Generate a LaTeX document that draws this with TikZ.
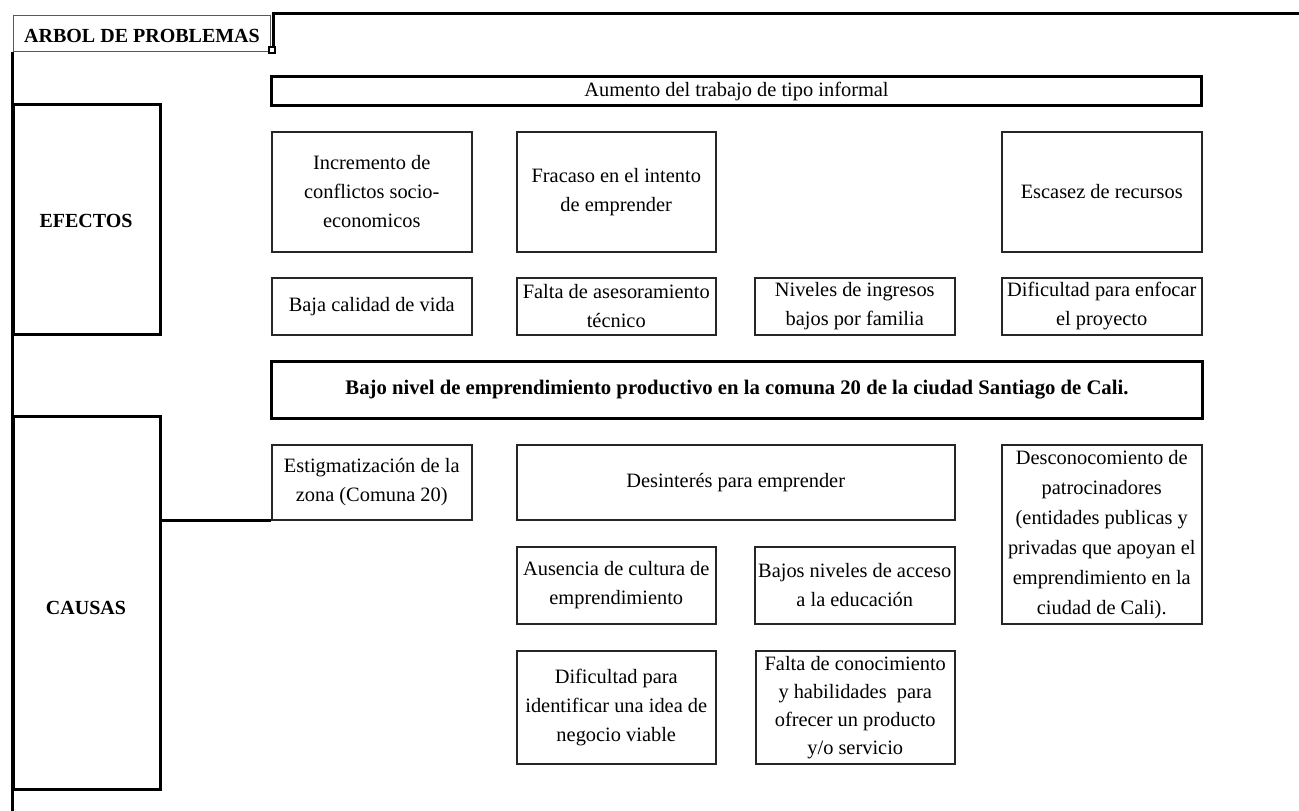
\documentclass[tikz,border=0pt]{standalone}
\usepackage{fontspec}
\setmainfont{Liberation Serif}
\begin{document}
\begin{tikzpicture}[x=1pt,y=-1pt,
  box/.style={draw=black!85, line width=1.5pt, align=center, inner sep=0pt, anchor=north west,
    font=\fontsize{20.4}{29}\selectfont},
  thickbox/.style={box, draw=black, line width=3pt},
  sidebox/.style={draw=black, line width=3pt, inner sep=0pt, anchor=north west},
  sidelabel/.style={font=\fontsize{20}{24}\selectfont\bfseries, inner sep=0pt},
  frame/.style={draw=black, line width=3pt},
  tabbox/.style={draw=black!65, line width=1.2pt, inner sep=0pt, anchor=north west}]
\useasboundingbox (0,0) rectangle (1299,811);

% tab and frame
\node[tabbox, minimum width=257pt, minimum height=36pt] (tab) at (13,15) {};
\node[sidelabel] (tabT) at (142,36) {ARBOL DE PROBLEMAS};
\coordinate (ftop) at (273,13);
\coordinate (fright) at (1299,13);
\coordinate (fdrop) at (273,47);
\coordinate (fleft) at (12,52);
\coordinate (fbottom) at (12,811);
\draw[frame] (fdrop) -- (ftop) -- (fright);
\draw[frame] (fleft) -- (fbottom);
\node[draw=black, line width=1.5pt, fill=white, minimum size=6pt, inner sep=0pt] (handle) at (272,50) {};

% side boxes
\node[sidebox, minimum width=147pt, minimum height=230pt] (efectos) at (12,103) {};
\node[sidelabel] (efectosT) at (86,221) {EFECTOS};
\node[sidebox, minimum width=147pt, minimum height=373pt] (causas) at (12,415) {};
\node[sidelabel] (causasT) at (86,608) {CAUSAS};

% effects
\node[thickbox, minimum width=930pt, minimum height=29pt] (aumento) at (270,75) {Aumento del trabajo de tipo informal};
\node[box, minimum width=200pt, minimum height=120pt] (incremento) at (271,131) {Incremento de\\conflictos socio-\\economicos};
\node[box, minimum width=199pt, minimum height=120pt] (fracaso) at (516,131) {Fracaso en el intento\\de emprender};
\node[box, minimum width=200pt, minimum height=120pt] (escasez) at (1001,131) {Escasez de recursos};
\node[box, minimum width=200pt, minimum height=57pt] (baja) at (271,277) {Baja calidad de vida};
\node[box, minimum width=199pt, minimum height=57pt] (asesor) at (516,277) {Falta de asesoramiento\\técnico};
\node[box, minimum width=200pt, minimum height=57pt] (niveles) at (754,277) {Niveles de ingresos\\bajos por familia};
\node[box, minimum width=200pt, minimum height=57pt] (enfocar) at (1001,277) {Dificultad para enfocar\\el proyecto};

% central problem
\node[thickbox, minimum width=931pt, minimum height=57pt, font=\fontsize{20.7}{24}\selectfont\bfseries] (problema) at (270,360) {Bajo nivel de emprendimiento productivo en la comuna 20 de la ciudad Santiago de Cali.};

% causes
\node[box, minimum width=200pt, minimum height=75pt] (estig) at (271,444) {Estigmatización de la\\zona (Comuna 20)};
\node[box, minimum width=438pt, minimum height=75pt] (desinteres) at (516,444) {Desinterés para emprender};
\node[box, minimum width=200pt, minimum height=179pt, font=\fontsize{20.4}{30}\selectfont] (descon) at (1001,444) {Desconocomiento de\\patrocinadores\\(entidades publicas y\\privadas que apoyan el\\emprendimiento en la\\ciudad de Cali).};
\node[box, minimum width=199pt, minimum height=77pt] (ausencia) at (516,546) {Ausencia de cultura de\\emprendimiento};
\node[box, minimum width=200pt, minimum height=77pt] (bajos) at (754,546) {Bajos niveles de acceso\\a la educación};
\node[box, minimum width=199pt, minimum height=113pt] (idea) at (516,650) {Dificultad para\\identificar una idea de\\negocio viable};
\node[box, minimum width=199pt, minimum height=113pt, font=\fontsize{20.4}{28}\selectfont] (conoc) at (755,650) {Falta de conocimiento\\y habilidades \ para\\ofrecer un producto\\y/o servicio};

% connector
\draw[line width=3pt] (estig.south west) -- (estig.south west -| causas.east);
\end{tikzpicture}
\end{document}
